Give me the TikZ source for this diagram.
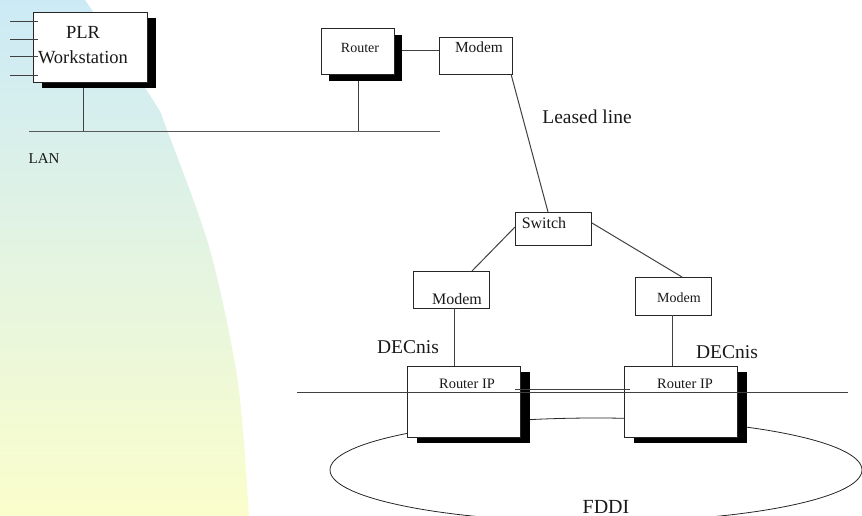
\documentclass[tikz,border=0pt]{standalone}
\usepackage{fontspec}
\setmainfont{Liberation Serif}
\usetikzlibrary{shapes.geometric}
\definecolor{skytop}{RGB}{204,234,246}
\definecolor{creambot}{RGB}{251,254,204}
\begin{document}
\begin{tikzpicture}[x=1pt,y=-1pt,
  box/.style={draw=black!85, line width=0.8pt, fill=white, minimum width=#1, inner sep=0pt, outer sep=0pt},
  boxh/.style={minimum height=#1},
  wire/.style={draw=black!75, line width=1pt},
  bus/.style={draw=black!65, line width=1.6pt},
  lab/.style={anchor=base, inner sep=0pt, text=black!90, font=\fontsize{#1}{#1}\selectfont}]
\useasboundingbox (0,0) rectangle (862,516);
\clip (0,0) rectangle (862,516);

% background wash on the left
\shade[top color=skytop, bottom color=creambot]
  (0,0) -- plot[smooth] coordinates {(85,0) (153,100) (167,130) (210,250) (238,383) (249,516)} -- (0,516) -- cycle;

% FDDI ring (behind the routers)
\node[draw=black!85, line width=0.8pt, ellipse, minimum width=532, minimum height=104, inner sep=0pt] (ring) at (596,470) {};

% shadows
\fill (42,18) rectangle (156,88);
\fill (329,35) rectangle (402,81);
\fill (417,372) rectangle (530,443);
\fill (634,372) rectangle (747,443);

% boxes
\node[box=114, boxh=70] (ws) at (90,47) {};
\node[box=73, boxh=46] (rt) at (357.5,51) {};
\node[box=73, boxh=37] (mt) at (475.5,55.5) {};
\node[box=76, boxh=33] (sw) at (553,228.5) {};
\node[box=76, boxh=37] (ml) at (451,289.5) {};
\node[box=76, boxh=38] (mr) at (673,296) {};
\node[box=113, boxh=71] (ripl) at (463.5,401.5) {};
\node[box=113, boxh=71] (ripr) at (680.5,401.5) {};

% line ends
\coordinate (lanw) at (29,131.5);
\coordinate (lane) at (440,131.5);
\coordinate (bbw) at (297,392);
\coordinate (bbe) at (848,392);

% workstation ports
\foreach \yy [count=\i] in {22,40,57,76} {
  \coordinate (p\i) at (10,\yy);
  \draw[wire] (p\i) -- (p\i -| 38,0);
}

% LAN and its drops
\draw[bus] (lanw) -- (lane);
\draw[wire] (83,88) -- (83,131.5);
\draw[wire] (358,81) -- (358,131.5);

% router to modem, leased line
\draw[wire] (402,51) -- (mt.west |- 0,51);
\draw[wire] (511,74) -- (548,212);

% switch to modems
\draw[wire] (515,227) -- (472,271);
\draw[wire] (592,223) -- (682,277);

% modems to routers
\draw[wire] (ml.south -| 454,0) -- (ripl.north -| 454,0);
\draw[wire] (mr.south -| 672,0) -- (ripr.north -| 672,0);

% backbone over the routers
\draw[wire] (bbw) -- (bbe);
\draw[wire] (515,389.5) -- (630,389.5);

% labels
\node[lab=18.5] (tplr) at (83,39) {PLR};
\node[lab=18.5] (tws) at (83,64) {Workstation};
\node[lab=15] (tlan) at (44,164) {LAN};
\node[lab=14] (trt) at (360,53) {Router};
\node[lab=15.4] (tmt) at (479,53) {Modem};
\node[lab=19.5] (tll) at (587,124) {Leased line};
\node[lab=16] (tsw) at (544,228) {Switch};
\node[lab=16] (tml) at (457,304) {Modem};
\node[lab=14] (tmr) at (679,302) {Modem};
\node[lab=19.5] (tdl) at (408,353) {DECnis};
\node[lab=19.5] (tdr) at (727,358) {DECnis};
\node[lab=14.4] (tripl) at (467,388) {Router IP};
\node[lab=14.4] (tripr) at (685,388) {Router IP};
\node[lab=20] (tfddi) at (606,513) {FDDI};
\end{tikzpicture}
\end{document}
